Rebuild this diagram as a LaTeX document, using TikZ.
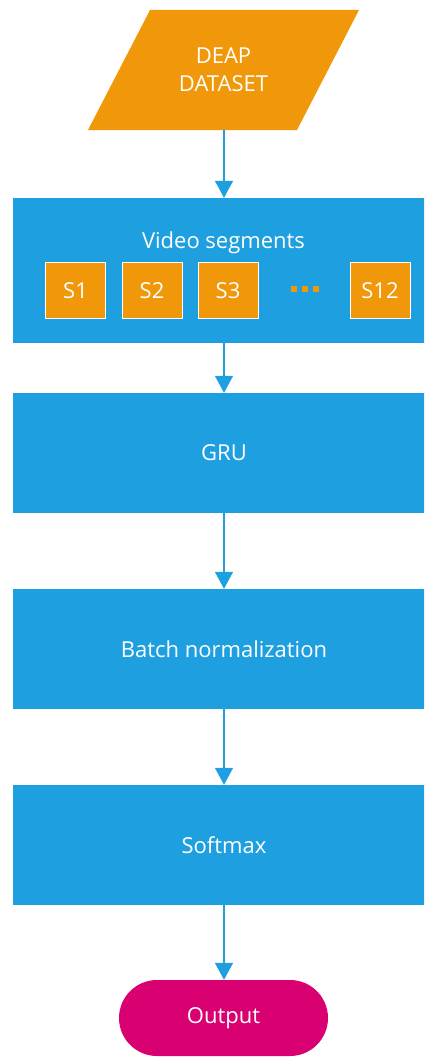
\documentclass[tikz,border=0pt]{standalone}
\usepackage{fontspec}
\setmainfont{Open Sans}
\usetikzlibrary{arrows.meta}
\definecolor{flowblue}{RGB}{30,160,224}
\definecolor{floworange}{RGB}{240,152,10}
\definecolor{flowpink}{RGB}{217,0,114}
\tikzset{
  txt/.style={text=white,font=\fontsize{22}{28}\selectfont,inner sep=0pt},
  stage/.style={txt,fill=flowblue,minimum width=422pt,minimum height=120pt},
  seg/.style={txt,fill=floworange,draw=white,line width=1pt,minimum width=60pt,minimum height=56pt},
  flow/.style={draw=flowblue,line width=1.4pt,-{Triangle[width=18pt,length=17pt]}},
  dot/.style={fill=floworange,minimum size=6pt,inner sep=0pt}
}
\begin{document}
\begin{tikzpicture}[x=1pt,y=-1pt]
\useasboundingbox (0,0) rectangle (424,1057);
\clip (0,0) rectangle (424,1057);
% input data (parallelogram)
\node[txt,minimum width=209pt,minimum height=120pt,align=center] (deap) at (223.5,70) {};
\fill[floworange] (150,10) -- (359,10) -- (297,130) -- (88,130) -- cycle;
\node[txt,align=center] at (deap.center) {DEAP\\DATASET};
% video segments block
\node[stage,minimum height=145pt] (video) at (224,270.5) {};
\node[txt] (vtitle) at (223.5,243) {Video segments};
\node[seg] (s1) at (75.5,290.5) {S1};
\node[seg] (s2) at (152,290.5) {S2};
\node[seg] (s3) at (228,290.5) {S3};
\node[seg] (s12) at (380,290.5) {S12};
\node[dot] (d1) at (294,289) {};
\node[dot] (d2) at (305,289) {};
\node[dot] (d3) at (316,289) {};
% processing stages
\node[stage] (gru) at (224,453) {GRU};
\node[stage] (bn) at (224,649) {Batch normalization};
\node[stage] (soft) at (224,845) {Softmax};
% output terminal
\node[txt,fill=flowpink,minimum width=209pt,minimum height=76pt,rounded corners=38pt] (out) at (223.5,1018) {Output};
% connectors
\draw[flow] (deap.south -| 224,0) -- (video.north);
\draw[flow] (video.south) -- (gru.north);
\draw[flow] (gru.south) -- (bn.north);
\draw[flow] (bn.south) -- (soft.north);
\draw[flow] (soft.south) -- (out.north -| soft.south);
\end{tikzpicture}
\end{document}
